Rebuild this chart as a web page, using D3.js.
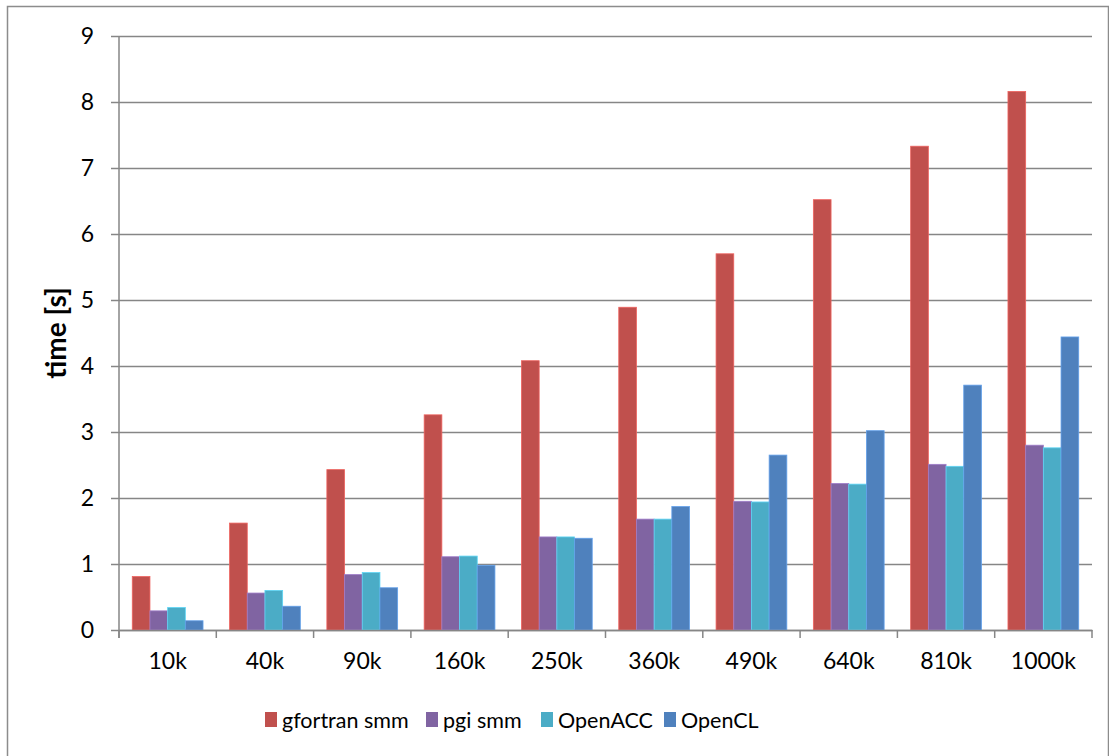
<!DOCTYPE html>
<html>
<head>
<meta charset="utf-8">
<script src="https://cdn.jsdelivr.net/npm/d3@7"></script>
<style>
  html, body { margin: 0; padding: 0; background: #fff; }
  svg { display: block; font-family: Lato, "Open Sans", sans-serif; }
</style>
</head>
<body>
<svg id="chart" width="1109" height="756"></svg>
<script>
// Problem sizes and run times (seconds) per implementation
const categories = ["10k", "40k", "90k", "160k", "250k", "360k", "490k", "640k", "810k", "1000k"];
const seriesNames = ["gfortran smm", "pgi smm", "OpenACC", "OpenCL"];
const gfortranSmm = [0.81, 1.62, 2.43, 3.26, 4.08, 4.89, 5.70, 6.52, 7.33, 8.16];
const pgiSmm      = [0.29, 0.56, 0.84, 1.11, 1.41, 1.68, 1.95, 2.22, 2.51, 2.80];
const openACC     = [0.34, 0.60, 0.87, 1.12, 1.41, 1.68, 1.94, 2.21, 2.48, 2.76];
const openCL      = [0.14, 0.36, 0.64, 0.98, 1.39, 1.87, 2.65, 3.02, 3.71, 4.44];
const seriesColors = ["#C0504D", "#8064A2", "#4BACC6", "#4F81BD"];
const yTicks = [0, 1, 2, 3, 4, 5, 6, 7, 8, 9];

const seriesValues = [gfortranSmm, pgiSmm, openACC, openCL];

const svg = d3.select("#chart");
const W = 1109, H = 756;
const margin = { left: 119, right: 17, top: 36, bottom: 126 };
const plotW = W - margin.left - margin.right;
const plotH = H - margin.top - margin.bottom;
const axisFont = "Lato, 'Open Sans', sans-serif";

// outer chart frame
svg.append("rect")
  .attr("x", 7.5).attr("y", 6.5)
  .attr("width", W - 8).attr("height", H - 4)
  .attr("fill", "none").attr("stroke", "#8c8c8c").attr("stroke-width", 1.5);

const g = svg.append("g").attr("transform", `translate(${margin.left},${margin.top})`);

const x0 = d3.scaleBand().domain(categories).range([0, plotW]).paddingInner(0).paddingOuter(0);
const barTotal = x0.bandwidth() / (4 + 1.5) * 4;
const x1 = d3.scaleBand().domain(seriesNames)
  .range([(x0.bandwidth() - barTotal) / 2, (x0.bandwidth() + barTotal) / 2]).padding(0);
const y = d3.scaleLinear().domain([0, 9]).range([plotH, 0]);

// horizontal gridlines with outside tick marks
const yAxis = d3.axisLeft(y).tickValues(yTicks).tickSize(-plotW).tickSizeOuter(0).tickPadding(25)
  .tickFormat(d3.format("d"));
const yg = g.append("g").call(yAxis);
yg.select(".domain").remove();
yg.selectAll(".tick line").attr("x1", -8).attr("stroke", "#868686").attr("stroke-width", 1.5);
yg.selectAll(".tick text").attr("font-size", 23).attr("fill", "#000")
  .attr("font-family", axisFont);

// bars
const groups = g.append("g").selectAll("g").data(categories).join("g")
  .attr("transform", d => `translate(${x0(d)},0)`);
groups.selectAll("rect")
  .data((c, i) => seriesNames.map((s, k) => ({ s, k, v: seriesValues[k][i] })))
  .join("rect")
  .attr("x", d => x1(d.s))
  .attr("y", d => y(d.v))
  .attr("width", x1.bandwidth())
  .attr("height", d => y(0) - y(d.v))
  .attr("fill", d => seriesColors[d.k])
  .attr("stroke", d => d3.color(seriesColors[d.k]).brighter(0.6))
  .attr("stroke-width", 0.8);

// vertical axis line
g.append("line").attr("x1", 0).attr("x2", 0).attr("y1", 0).attr("y2", plotH + 8)
  .attr("stroke", "#868686").attr("stroke-width", 1.5);

// category axis
const xAxis = d3.axisBottom(x0).tickSize(0).tickPadding(23);
const xg = g.append("g").attr("transform", `translate(0,${plotH})`).call(xAxis);
xg.select(".domain").attr("stroke", "#868686").attr("stroke-width", 1.5);
xg.selectAll(".tick text").attr("font-size", 23).attr("fill", "#000")
  .attr("font-family", axisFont);
// boundary tick marks between categories
g.append("g").selectAll("line")
  .data(d3.range(categories.length + 1))
  .join("line")
  .attr("x1", i => i * x0.step()).attr("x2", i => i * x0.step())
  .attr("y1", plotH).attr("y2", plotH + 8)
  .attr("stroke", "#868686").attr("stroke-width", 1.5);

// y-axis title
svg.append("text")
  .attr("transform", `translate(66,${margin.top + plotH / 2}) rotate(-90)`)
  .attr("text-anchor", "middle")
  .attr("font-size", 28).attr("font-weight", "bold").attr("fill", "#000")
  .text("time [s]");

// legend
const legendX = [265, 426, 541, 664];
const lg = svg.append("g").selectAll("g").data(seriesNames).join("g")
  .attr("transform", (d, i) => `translate(${legendX[i]},712)`);
lg.append("rect").attr("width", 12).attr("height", 15).attr("y", 0)
  .attr("fill", (d, i) => seriesColors[i]);
lg.append("text").attr("x", 17).attr("y", 15.5)
  .attr("font-size", 21.5).attr("fill", "#000").text(d => d);
</script>
</body>
</html>
